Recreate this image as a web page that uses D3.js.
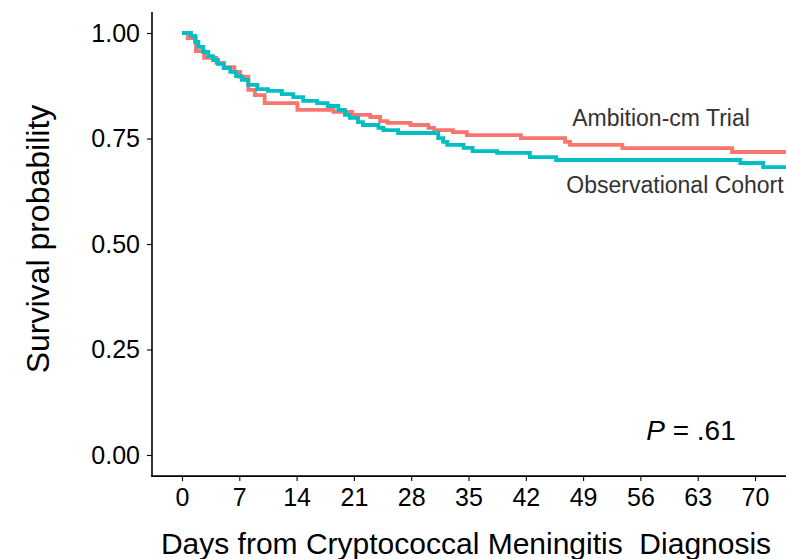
<!DOCTYPE html>
<html><head><meta charset="utf-8">
<script src="https://cdn.jsdelivr.net/npm/d3@7"></script>
<style>
body{margin:0;background:#fff;}
svg{display:block;font-family:"Liberation Sans",Arial,sans-serif;}
</style></head>
<body><svg id="chart" width="786" height="559"></svg>
<script>
// Kaplan-Meier step data (time in days, survival probability)
const trialTimes = [0, 0.7, 1.7, 2.7, 4.2, 5.1, 6.4, 7.1, 8.1, 8.9, 10.1, 14.1, 18.5, 20.8, 23.0, 24.2, 25.1, 27.9, 30.1, 30.8, 33.1, 34.8, 41.4, 46.8, 47.4, 53.8, 67.2, 74];
const trialSurv  = [1.0, 0.988, 0.957, 0.941, 0.929, 0.919, 0.908, 0.896, 0.865, 0.853, 0.834, 0.818, 0.813, 0.806, 0.801, 0.791, 0.787, 0.782, 0.775, 0.770, 0.765, 0.758, 0.751, 0.742, 0.735, 0.727, 0.718, 0.718];
const cohortTimes = [0, 1.1, 1.6, 2.0, 2.6, 3.2, 3.8, 4.4, 5.1, 5.9, 6.6, 7.3, 8.1, 9.2, 10.5, 12.2, 13.6, 14.8, 16.5, 17.8, 19.1, 19.9, 20.5, 21.5, 22.1, 24.0, 24.6, 26.4, 31.3, 31.9, 32.4, 34.4, 35.5, 38.5, 42.5, 45.7, 68.2, 71.0, 74];
const cohortSurv  = [1.0, 0.993, 0.979, 0.967, 0.955, 0.945, 0.936, 0.927, 0.917, 0.908, 0.898, 0.889, 0.877, 0.867, 0.863, 0.855, 0.848, 0.839, 0.834, 0.827, 0.818, 0.806, 0.799, 0.789, 0.782, 0.775, 0.770, 0.763, 0.751, 0.742, 0.735, 0.728, 0.720, 0.716, 0.706, 0.699, 0.692, 0.682, 0.682];
const xTicks = [0, 7, 14, 21, 28, 35, 42, 49, 56, 63, 70];
const yTicks = [0, 0.25, 0.5, 0.75, 1.0];
const seriesNames = ["Ambition-cm Trial", "Observational Cohort"];
const seriesColors = ["#F8766D", "#00BFC4"];

const svg = d3.select("#chart");
const x = d3.scaleLinear().domain([0, 70]).range([182, 755]);
const y = d3.scaleLinear().domain([0, 1]).range([455, 33]);
const xLeft = x.invert(152), xRight = x.invert(786);
const yBottom = -0.05, yTop = 1.05;

const line = d3.line().x(d => x(d[0])).y(d => y(d[1])).curve(d3.curveStepAfter);
const series = [
  trialTimes.map((t, i) => [t, trialSurv[i]]),
  cohortTimes.map((t, i) => [t, cohortSurv[i]])
];
svg.append("defs").append("clipPath").attr("id","clip")
  .append("rect").attr("x", x(xLeft)).attr("y", y(yTop)).attr("width", x(xRight)-x(xLeft)).attr("height", y(yBottom)-y(yTop));
const g = svg.append("g").attr("clip-path","url(#clip)");
series.forEach((s, i) => {
  g.append("path").datum(s).attr("d", line)
    .attr("fill","none").attr("stroke", seriesColors[i]).attr("stroke-width", 3.8);
});

// axes
const xAxis = d3.axisBottom(x).tickValues(xTicks).tickSize(5).tickPadding(7);
const yAxis = d3.axisLeft(y).tickValues(yTicks).tickSize(5).tickPadding(7).tickFormat(d3.format(".2f"));
const gx = svg.append("g").attr("transform", `translate(0,${y(yBottom)})`).call(xAxis);
const gy = svg.append("g").attr("transform", `translate(${x(xLeft)},0)`).call(yAxis);
[gx, gy].forEach(a => {
  a.select(".domain").remove();
  a.selectAll(".tick line").attr("stroke","#000").attr("stroke-width",1.1);
  a.selectAll(".tick text").attr("fill","#000").attr("font-size", 25).attr("font-family","Liberation Sans, Arial, sans-serif");
});
svg.append("line").attr("x1", x(xLeft)).attr("x2", x(xLeft)).attr("y1", y(yTop)).attr("y2", y(yBottom)+0.5)
  .attr("stroke","#000").attr("stroke-width",1.6);
svg.append("line").attr("x1", x(xLeft)-0.8).attr("x2", x(xRight)).attr("y1", y(yBottom)).attr("y2", y(yBottom))
  .attr("stroke","#000").attr("stroke-width",1.6);

// titles
svg.append("text").attr("x", 466).attr("y", 554).attr("text-anchor","middle")
  .attr("font-size", 30).attr("fill","#000").style("white-space","pre")
  .text("Days from Cryptococcal Meningitis  Diagnosis");
svg.append("text").attr("transform", `translate(49,${y(0.5)-5}) rotate(-90)`).attr("text-anchor","middle")
  .attr("font-size", 32).attr("fill","#000").text("Survival probability");

// annotations
svg.append("text").attr("x", 661).attr("y", 126).attr("text-anchor","middle")
  .attr("font-size", 23).attr("fill","#333").text(seriesNames[0]);
svg.append("text").attr("x", 675).attr("y", 193).attr("text-anchor","middle")
  .attr("font-size", 23).attr("fill","#333").text(seriesNames[1]);
const p = svg.append("text").attr("x", 691).attr("y", 440).attr("text-anchor","middle")
  .attr("font-size", 28).attr("fill","#000");
p.append("tspan").attr("font-style","italic").text("P");
p.append("tspan").text(" = .61");
</script></body></html>
